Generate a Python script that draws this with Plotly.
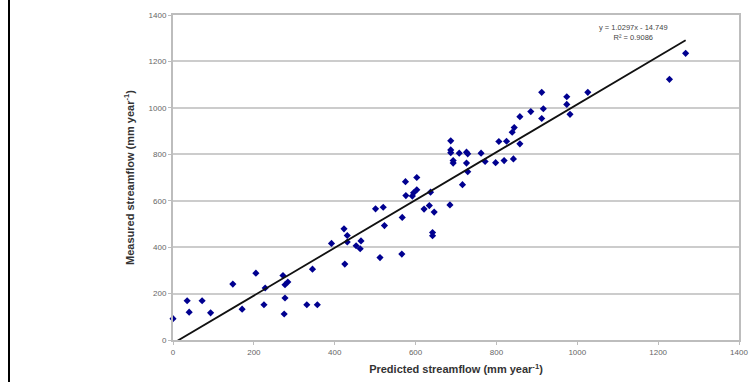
import plotly.graph_objects as go

# Predicted (x) and measured (y) streamflow, mm/year
predicted = [0, 35, 40, 72, 93, 148, 171, 205, 228, 225, 272, 277, 284, 277, 275,
             345, 331, 357, 392, 423, 431, 431, 425, 453, 463, 465, 501, 520, 523,
             512, 566, 567, 576, 592, 595, 575, 603, 603, 637, 621, 634, 646, 685,
             642, 642, 687, 687, 687, 693, 693, 708, 726, 729, 762, 726, 729, 716,
             772, 798, 819, 842, 806, 825, 839, 844, 858, 858, 885, 912, 916, 912,
             974, 974, 982, 1026, 1228, 1268]
measured = [92, 169, 120, 169, 117, 241, 133, 288, 224, 152, 278, 238, 250, 181, 112,
            305, 152, 152, 416, 479, 450, 422, 327, 406, 393, 427, 565, 572, 493,
            355, 370, 528, 622, 620, 634, 682, 700, 647, 637, 564, 579, 551, 582,
            463, 449, 858, 819, 807, 773, 762, 805, 809, 802, 805, 762, 725, 669,
            769, 764, 773, 780, 855, 856, 895, 915, 962, 845, 984, 1067, 996, 954,
            1048, 1015, 972, 1067, 1123, 1235]

slope = 1.0297
intercept = -14.749
eq_text = "y = 1.0297x - 14.749<br>R² = 0.9086"

x_ticks = [0, 200, 400, 600, 800, 1000, 1200, 1400]
y_ticks = [0, 200, 400, 600, 800, 1000, 1200, 1400]

font_fam = "Liberation Sans, Arial, sans-serif"

fig = go.Figure()

fig.add_trace(go.Scatter(
    x=predicted, y=measured, mode="markers",
    marker=dict(symbol="diamond", size=5.5, color="#000090"),
    showlegend=False, cliponaxis=False,
))

tx = [0, max(predicted)]
ty = [slope * v + intercept for v in tx]
fig.add_trace(go.Scatter(
    x=tx, y=ty, mode="lines",
    line=dict(color="#111111", width=1.8),
    showlegend=False,
))

fig.update_layout(
    width=755, height=382,
    margin=dict(l=173, r=16, t=15, b=42, autoexpand=False),
    paper_bgcolor="white", plot_bgcolor="white",
    font=dict(family=font_fam, color="#333333"),
    xaxis=dict(
        range=[0, 1400], tickvals=x_ticks, ticktext=[str(v) for v in x_ticks],
        showgrid=False, zeroline=False, automargin=False,
        showline=True, linecolor="#bdbdbd", linewidth=2, mirror=True,
        ticks="outside", ticklen=3, tickcolor="#bdbdbd", tickwidth=1,
        tickfont=dict(size=8, color="#666666"),
        title=dict(text="<b>Predicted streamflow (mm year<sup>-1</sup>)</b>",
                   font=dict(size=11, color="#333333"), standoff=10),
    ),
    yaxis=dict(
        range=[0, 1400], tickvals=y_ticks, ticktext=[str(v) for v in y_ticks],
        showgrid=True, gridcolor="#cccccc", gridwidth=1.5, zeroline=False,
        automargin=False,
        showline=True, linecolor="#bdbdbd", linewidth=2, mirror=True,
        ticks="outside", ticklen=3, tickcolor="#bdbdbd", tickwidth=1,
        tickfont=dict(size=8, color="#666666"),
        title=dict(text="<b>Measured streamflow (mm year<sup>-1</sup>)</b>",
                   font=dict(size=11, color="#333333"), standoff=12),
    ),
    annotations=[dict(
        x=1140, y=1325, xref="x", yref="y", text=eq_text, showarrow=False,
        font=dict(size=7.5, color="#444444"), align="center",
    )],
    shapes=[dict(
        type="line", xref="paper", yref="paper",
        x0=(9 - 173) / 566, x1=(9 - 173) / 566, y0=-0.2, y1=1.1,
        line=dict(color="black", width=2),
    )],
)

fig.write_html("out.html", config={"displayModeBar": False},
               post_script="document.body.style.margin='0';")
